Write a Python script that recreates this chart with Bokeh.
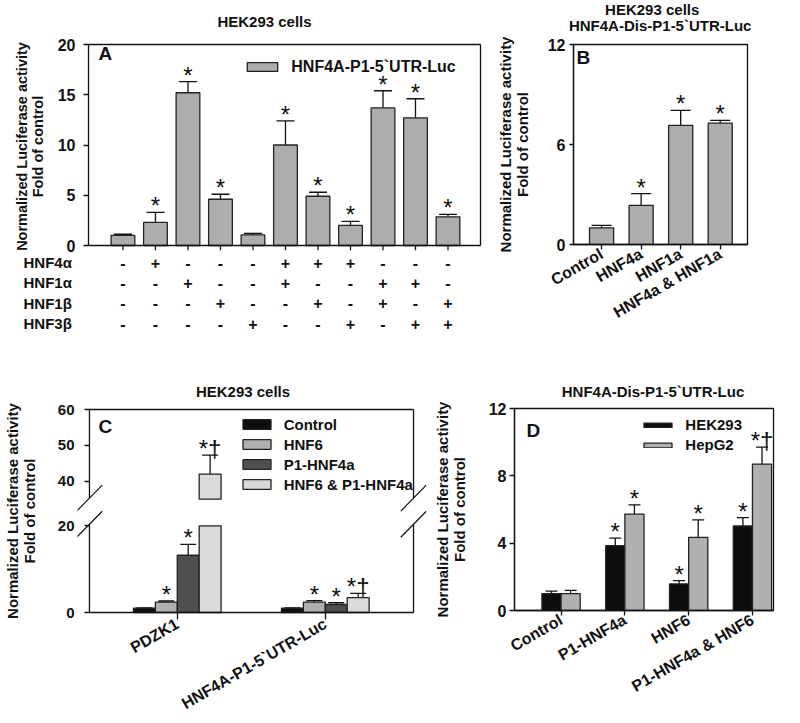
from math import pi
from bokeh.plotting import figure
from bokeh.models import (Range1d, FixedTicker, Whisker, TeeHead, ColumnDataSource,
                          LabelSet, Label, Legend, LegendItem, Arrow)
from bokeh.core.properties import value
from bokeh.layouts import column, row
from bokeh.embed import file_html
from bokeh.resources import INLINE

FONT = "Liberation Sans"
YLABEL = "Normalized Luciferase activity\nFold of control"

# ---------------- data: panel A ----------------
a_title = "HEK293 cells"
a_bars = list(range(1, 12))
a_values = [1.0, 2.3, 15.2, 4.6, 1.05, 10.0, 4.9, 2.0, 13.7, 12.7, 2.85]
a_errors = [0.12, 1.0, 1.1, 0.5, 0.15, 2.4, 0.4, 0.4, 1.7, 1.9, 0.25]
a_marks = ["", "*", "*", "*", "", "*", "*", "*", "*", "*", "*"]
a_series = "HNF4A-P1-5`UTR-Luc"
a_factors = ["HNF4α", "HNF1α", "HNF1β", "HNF3β"]
a_hnf4a = ["-", "+", "-", "-", "-", "+", "+", "+", "-", "-", "-"]
a_hnf1a = ["-", "-", "+", "-", "-", "+", "-", "-", "+", "+", "-"]
a_hnf1b = ["-", "-", "-", "+", "-", "-", "+", "-", "+", "-", "+"]
a_hnf3b = ["-", "-", "-", "-", "+", "-", "-", "+", "-", "+", "+"]
a_yticks = [0, 5, 10, 15, 20]

# ---------------- data: panel B ----------------
b_title = ["HEK293 cells", "HNF4A-Dis-P1-5`UTR-Luc"]
b_labels = ["Control", "HNF4a", "HNF1a", "HNF4a & HNF1a"]
b_values = [1.0, 2.35, 7.15, 7.28]
b_errors = [0.15, 0.7, 0.9, 0.17]
b_marks = ["", "*", "*", "*"]
b_yticks = [0, 6, 12]

# ---------------- data: panel C ----------------
c_title = "HEK293 cells"
c_groups = ["PDZK1", "HNF4A-P1-5`UTR-Luc"]
c_series = ["Control", "HNF6", "P1-HNF4a", "HNF6 & P1-HNF4a"]
c_control = [1.0, 1.0]
c_control_err = [0.08, 0.08]
c_control_marks = ["", ""]
c_hnf6 = [2.4, 2.4]
c_hnf6_err = [0.25, 0.35]
c_hnf6_marks = ["*", "*"]
c_p1 = [13.2, 1.85]
c_p1_err = [2.5, 0.4]
c_p1_marks = ["*", "*"]
c_combo = [42.0, 3.45]
c_combo_err = [5.3, 0.95]
c_combo_marks = ["*†", "*†"]
c_yticks = [0, 20, 40, 50, 60]

# ---------------- data: panel D ----------------
d_title = "HNF4A-Dis-P1-5`UTR-Luc"
d_groups = ["Control", "P1-HNF4a", "HNF6", "P1-HNF4a & HNF6"]
d_series = ["HEK293", "HepG2"]
d_hek = [1.0, 3.85, 1.58, 5.02]
d_hek_err = [0.15, 0.45, 0.2, 0.5]
d_hek_marks = ["", "*", "*", "*"]
d_hepg2 = [1.0, 5.73, 4.35, 8.7]
d_hepg2_err = [0.2, 0.55, 1.03, 1.0]
d_hepg2_marks = ["", "*", "*", "*†"]
d_yticks = [0, 4, 8, 12]

# ---------------- styles ----------------
INK = "#111111"
GRAY = "#adadad"
EDGE = "#222222"
C_COLORS = ["#0d0d0d", "#b0b0b0", "#4f4f4f", "#dadada"]
D_COLORS = ["#0d0d0d", "#b0b0b0"]


def base_fig(width, height, left, right, top, bottom, xr, yr):
    p = figure(width=width, height=height, x_range=Range1d(*xr), y_range=Range1d(*yr),
               output_backend="svg", toolbar_location=None,
               min_border_left=left, min_border_right=right,
               min_border_top=top, min_border_bottom=bottom)
    p.frame_align = False
    p.xgrid.visible = False
    p.ygrid.visible = False
    p.outline_line_color = INK
    p.outline_line_width = 1.3
    p.outline_line_alpha = 1.0
    for ax in p.axis:
        ax.axis_line_color = INK
        ax.axis_line_width = 1.3
        ax.major_tick_line_color = INK
        ax.major_tick_line_width = 1.3
        ax.major_tick_in = 0
        ax.major_tick_out = 5
        ax.minor_tick_line_color = None
        ax.major_label_text_font = FONT
        ax.major_label_text_font_style = "bold"
        ax.major_label_text_font_size = "16px"
        ax.major_label_text_color = INK
        ax.axis_label_text_font = FONT
        ax.axis_label_text_font_style = "bold"
        ax.axis_label_text_font_size = "15px"
        ax.axis_label_text_color = INK
        ax.axis_label_text_line_height = 1.0
    return p


def text_fig(width, height, xr=None):
    """A figure that only holds text (titles, the +/- table); y grows downward in px."""
    f = figure(width=width, height=height, x_range=Range1d(*(xr or (0, width))),
               y_range=Range1d(height, 0), x_axis_type=None, y_axis_type=None,
               output_backend="svg", toolbar_location=None, min_border=0)
    f.frame_align = False
    f.outline_line_color = None
    return f


def put_text(f, xs, ys, texts, size="15px", align="center"):
    f.text(x=xs, y=ys, text=texts, text_align=align, text_baseline="middle",
           text_font=value(FONT), text_font_style="bold", text_font_size=size,
           text_color=INK)


def letter(p, x, y, text):
    p.add_layout(Label(x=x, y=y, x_units="screen", y_units="screen", text=text,
                       text_align="left", text_baseline="middle", text_font=FONT,
                       text_font_style="bold", text_font_size="19px", text_color=INK))


def add_errors(p, xs, vals, tops, marks, cap):
    src = ColumnDataSource(dict(x=xs, v=vals, top=tops))
    p.add_layout(Whisker(source=src, base="x", lower="v", upper="top", dimension="height",
                         line_color=INK, line_width=1.3, lower_head=None,
                         upper_head=TeeHead(size=cap, line_color=INK, line_width=1.3)))
    keep = [i for i, m in enumerate(marks) if m]
    if keep:
        ssrc = ColumnDataSource(dict(x=[xs[i] for i in keep], top=[tops[i] for i in keep],
                                     mark=[marks[i] for i in keep]))
        p.add_layout(LabelSet(source=ssrc, x="x", y="top", text="mark", y_offset=-2,
                              text_align="center", text_baseline="alphabetic",
                              text_font=value(FONT), text_font_size="24px", text_color=INK))


def make_legend(items, loc, gw, gh, size):
    return Legend(items=items, location=loc, padding=0, margin=0, spacing=0,
                  glyph_width=gw, glyph_height=gh, label_height=20, label_standoff=10,
                  label_text_font=FONT, label_text_font_style="bold",
                  label_text_font_size=size, label_text_color=INK,
                  background_fill_alpha=0, border_line_alpha=0)


def seg(p, x0, y0, x1, y1, w=1.3):
    p.add_layout(Arrow(x_start=x0, y_start=y0, x_end=x1, y_end=y1, start=None, end=None,
                       line_color=INK, line_width=w))


# ================= Panel A =================
# drawn box: x 88..480, y 44..245 ; the frame is padded so box lines and x ticks stay inside
A_W, A_BOX_L, A_BOX_R, A_BOX_W, A_BOX_H = 490, 88, 10, 392, 201
A_XR = (-0.06, 12.0)
A_PAD_L, A_PAD_R, A_PAD_T, A_PAD_B = 2, 2, 2, 5
a_ux = (A_XR[1] - A_XR[0]) / A_BOX_W
a_uy = 20.0 / A_BOX_H
tA = text_fig(A_W, 30)
put_text(tA, [264], [20.5], [a_title])

pA = base_fig(A_W, 223, A_BOX_L - A_PAD_L, A_BOX_R - A_PAD_R, 14 - A_PAD_T, 3,
              (A_XR[0] - A_PAD_L * a_ux, A_XR[1] + A_PAD_R * a_ux),
              (-A_PAD_B * a_uy, 20 + A_PAD_T * a_uy))
pA.xaxis.visible = False
pA.outline_line_color = None
pA.yaxis.axis_line_color = None
rA = pA.vbar(x=a_bars, top=a_values, width=0.73, fill_color=GRAY,
             line_color=EDGE, line_width=1.3)
pA.segment(x0=a_bars, y0=[0] * len(a_bars), x1=a_bars, y1=[-5 * a_uy] * len(a_bars),
           line_color=INK, line_width=1.3)
add_errors(pA, a_bars, a_values, [v + e for v, e in zip(a_values, a_errors)], a_marks, 18)
pA.yaxis.ticker = FixedTicker(ticks=a_yticks)
pA.yaxis.major_tick_in = A_PAD_L
pA.yaxis.major_tick_out = 5 - A_PAD_L
pA.yaxis.major_label_standoff = 8
pA.yaxis.axis_label = YLABEL
pA.yaxis.axis_label_text_font_size = "14.5px"
pA.yaxis.axis_label_standoff = 9
for x0, y0, x1, y1 in [(A_XR[0], 0, A_XR[1], 0), (A_XR[0], 20, A_XR[1], 20),
                       (A_XR[0], 0, A_XR[0], 20), (A_XR[1], 0, A_XR[1], 20)]:
    seg(pA, x0, y0, x1, y1)
pA.add_layout(make_legend([LegendItem(label=a_series, renderers=[rA])],
                          (157.3, 173.5), 38, 11, "16px"))
letter(pA, 12, 197.5, "A")

# +/- table under panel A, on A's horizontal scale
tblA = text_fig(A_W, 117, (A_XR[0] - A_BOX_L * a_ux, A_XR[1] + A_BOX_R * a_ux))
row_y = [9, 29.3, 49.6, 70]
tx, ty, tt = [], [], []
for r, signs in enumerate([a_hnf4a, a_hnf1a, a_hnf1b, a_hnf3b]):
    for xpos, s in zip(a_bars, signs):
        tx.append(xpos)
        ty.append(row_y[r])
        tt.append(s)
put_text(tblA, tx, ty, tt, "16px")
put_text(tblA, [A_XR[0] + (23 - A_BOX_L) * a_ux] * len(a_factors), row_y, a_factors,
         "15px", "left")

# ================= Panel B =================
B_W, B_FH = 310, 200
tB = text_fig(B_W, 34)
put_text(tB, [161.7, 169.7], [9, 24.5], b_title)
pB = base_fig(B_W, 336, 83, 53, 10, 126, (-0.71, 3.69), (0, 12))
xB = list(range(len(b_labels)))
pB.vbar(x=xB, top=b_values, width=0.61, fill_color=GRAY, line_color=EDGE, line_width=1.3)
add_errors(pB, xB, b_values, [v + e for v, e in zip(b_values, b_errors)], b_marks, 20)
pB.xaxis.ticker = FixedTicker(ticks=xB)
pB.xaxis.major_label_overrides = {i: lab for i, lab in zip(xB, b_labels)}
pB.xaxis.major_label_orientation = pi / 6
pB.xaxis.major_label_standoff = 3
pB.yaxis.ticker = FixedTicker(ticks=b_yticks)
pB.yaxis.major_label_standoff = 4
pB.yaxis.major_tick_out = 4
pB.yaxis.axis_label = YLABEL
pB.yaxis.axis_label_standoff = 14
letter(pB, 3, B_FH - 12.5, "B")

# ================= Panel C (broken y axis) =================
C_LOW_MAX = 20.0      # top of lower axis segment
C_HIGH_MIN = 35.0     # bottom of upper axis segment
C_HIGH_START = 26.15  # drawing-scale position of C_HIGH_MIN
C_HIGH_SCALE = 0.827  # compression of the upper segment


def c_y(v):
    if v <= C_LOW_MAX:
        return v
    return C_HIGH_START + (v - C_HIGH_MIN) * C_HIGH_SCALE


C_W, C_CORE_W, C_CORE_H = 430, 325, 203
C_XR = (-0.593, 1.596)
C_YTOP = c_y(c_yticks[-1])
C_PAD_L, C_PAD_R, C_PAD_V = 12, 13, 2
c_ux = (C_XR[1] - C_XR[0]) / C_CORE_W
c_uy = C_YTOP / C_CORE_H
tC = text_fig(C_W, 30)
put_text(tC, [242.5], [20.5], [c_title])
pC = base_fig(C_W, 323, 76, 4, 7, 109,
              (C_XR[0] - C_PAD_L * c_ux, C_XR[1] + C_PAD_R * c_ux),
              (-C_PAD_V * c_uy, C_YTOP + C_PAD_V * c_uy))
pC.outline_line_color = None
pC.yaxis.axis_line_color = None
pC.xaxis.axis_line_color = None
CW = 0.148
c_items = []
for k, (name, vals, errs, mks) in enumerate(zip(
        c_series, [c_control, c_hnf6, c_p1, c_combo],
        [c_control_err, c_hnf6_err, c_p1_err, c_combo_err],
        [c_control_marks, c_hnf6_marks, c_p1_marks, c_combo_marks])):
    xs = [g + (k - 1.5) * CW for g in range(len(c_groups))]
    bx, bb, bt = [], [], []
    for xv, v in zip(xs, vals):
        if v > C_LOW_MAX:
            bx += [xv, xv]
            bb += [0, c_y(C_HIGH_MIN)]
            bt += [c_y(C_LOW_MAX), c_y(v)]
        else:
            bx.append(xv)
            bb.append(0)
            bt.append(c_y(v))
    rc = pC.vbar(x=bx, bottom=bb, top=bt, width=CW, fill_color=C_COLORS[k],
                 line_color=EDGE, line_width=1.3)
    c_items.append(LegendItem(label=name, renderers=[rc]))
    add_errors(pC, xs, [c_y(v) for v in vals], [c_y(v + e) for v, e in zip(vals, errs)], mks, 16)
pC.add_layout(make_legend(c_items, (C_PAD_L + 149.7, C_PAD_V + 118), 35, 12, "15px"))
pC.xaxis.ticker = FixedTicker(ticks=list(range(len(c_groups))))
pC.xaxis.major_label_overrides = {i: g for i, g in enumerate(c_groups)}
pC.xaxis.major_label_orientation = pi / 6
pC.xaxis.major_label_standoff = 3
pC.xaxis.major_tick_in = C_PAD_V
pC.xaxis.major_tick_out = 5
c_tick_pos = [round(c_y(t), 4) for t in c_yticks]
pC.yaxis.ticker = FixedTicker(ticks=c_tick_pos)
pC.yaxis.major_label_overrides = {tp: str(t) for tp, t in zip(c_tick_pos, c_yticks)}
pC.yaxis.major_tick_in = C_PAD_L
pC.yaxis.major_tick_out = 5 - C_PAD_L
pC.yaxis.major_label_standoff = 3
pC.yaxis.major_label_text_font_size = "15px"
pC.yaxis.axis_label = YLABEL
pC.yaxis.axis_label_standoff = 17
# box lines with axis breaks
brk_lo, brk_hi = 20.35, 26.4
for xe in C_XR:
    seg(pC, xe, 0, xe, brk_lo)
    seg(pC, xe, brk_hi, xe, C_YTOP)
    for yc in (brk_lo, brk_hi):
        seg(pC, xe - 12.8 * c_ux, yc - 13 * c_uy, xe + 12.8 * c_ux, yc + 13 * c_uy, 1.2)
seg(pC, C_XR[0], C_YTOP, C_XR[1], C_YTOP)
seg(pC, C_XR[0], 0, C_XR[1], 0)
letter(pC, 21, 207 - 19.2, "C")

# ================= Panel D =================
D_W, D_FH = 370, 202
tD = text_fig(D_W, 30)
put_text(tD, [222.5], [20.5], [d_title])
pD = base_fig(D_W, 323, 76, 27, 8, 113, (-0.73, 3.33), (0, 12))
DW = 0.30
d_items = []
for k, (name, vals, errs, mks) in enumerate(zip(d_series, [d_hek, d_hepg2],
                                                 [d_hek_err, d_hepg2_err],
                                                 [d_hek_marks, d_hepg2_marks])):
    xs = [g + (k - 0.5) * DW for g in range(len(d_groups))]
    rd = pD.vbar(x=xs, top=vals, width=DW, fill_color=D_COLORS[k],
                 line_color=EDGE, line_width=1.3)
    d_items.append(LegendItem(label=name, renderers=[rd]))
    add_errors(pD, xs, vals, [v + e for v, e in zip(vals, errs)], mks, 12)
pD.add_layout(make_legend(d_items, (126.3, 155.3), 35, 6, "15px"))
pD.xaxis.ticker = FixedTicker(ticks=list(range(len(d_groups))))
pD.xaxis.major_label_overrides = {i: g for i, g in enumerate(d_groups)}
pD.xaxis.major_label_orientation = pi / 6
pD.xaxis.major_label_standoff = 3
pD.yaxis.ticker = FixedTicker(ticks=d_yticks)
pD.yaxis.major_label_standoff = 3
pD.yaxis.axis_label = YLABEL
pD.yaxis.axis_label_standoff = 18
letter(pD, 12, D_FH - 22, "D")

layout = column(
    row(column(tA, pA, tblA), column(tB, pB)),
    row(column(tC, pC), column(tD, pD)),
)
open("out.html", "w").write(file_html(layout, INLINE, "HNF4A luciferase"))
